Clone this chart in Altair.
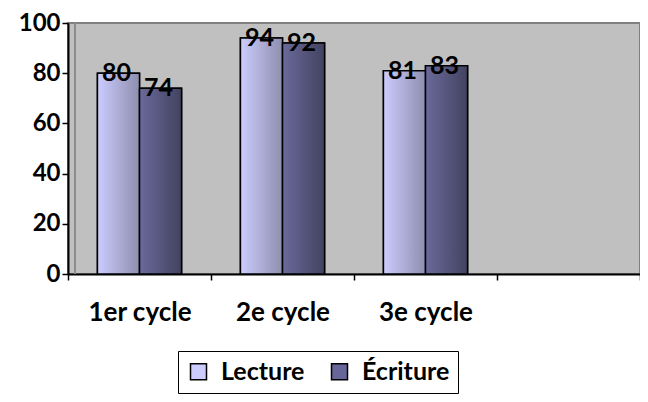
import altair as alt
import pandas as pd

categories = ["1er cycle", "2e cycle", "3e cycle", "-"]
series = ["Lecture", "Écriture"]
lecture = [80, 94, 81]
ecriture = [74, 92, 83]
y_ticks = [0, 20, 40, 60, 80, 100]
solid_colors = ["#CCCCFF", "#666699"]

rows = []
for c, v in zip(categories[:3], lecture):
    rows.append({"cycle": c, "serie": "Lecture", "valeur": v})
for c, v in zip(categories[:3], ecriture):
    rows.append({"cycle": c, "serie": "Écriture", "valeur": v})
df = pd.DataFrame(rows)

FONT = "Lato"
W, H = 572, 251

x_enc = alt.X(
    "cycle:N",
    scale=alt.Scale(domain=categories, paddingInner=0, paddingOuter=0),
    axis=alt.Axis(
        title=None, tickBand="extent", labelAngle=0,
        labelExpr="datum.value == '-' ? '' : datum.value",
        labelFont=FONT, labelFontWeight="bold", labelFontSize=26, labelColor="black",
        labelPadding=19, tickSize=6, tickColor="black", tickWidth=1.5,
        domainColor="black", domainWidth=2, grid=False,
    ),
)
xo_enc = alt.XOffset(
    "serie:N", scale=alt.Scale(domain=series, paddingInner=0, paddingOuter=0.70)
)
y_enc = alt.Y(
    "valeur:Q",
    scale=alt.Scale(domain=[0, 100], nice=False),
    axis=alt.Axis(
        title=None, values=y_ticks, labelFont=FONT, labelFontWeight="bold",
        labelFontSize=24, labelColor="black", labelPadding=2, tickSize=6,
        tickColor="black", tickWidth=1.5, domainColor="black", domainWidth=2, grid=False,
    ),
)

base = alt.Chart(df).mark_bar(stroke="black", strokeWidth=1.5).encode(
    x=x_enc, xOffset=xo_enc, y=y_enc,
    color=alt.Color(
        "serie:N",
        scale=alt.Scale(domain=series, range=solid_colors),
        legend=alt.Legend(
            title=None, orient="none", legendX=110, legendY=328, direction="horizontal",
            columns=2, symbolType="square", symbolSize=256, symbolStrokeColor="black",
            symbolStrokeWidth=1.5, symbolOpacity=1, labelFont=FONT, labelFontWeight="bold",
            labelFontSize=25, labelColor="black", columnPadding=22, labelOffset=10,
            padding=8, strokeColor="black", fillColor="white",
        ),
    ),
)

def grad(c1, c2):
    return alt.Gradient(
        gradient="linear", x1=0, x2=1, y1=0, y2=0,
        stops=[alt.GradientStop(color=c1, offset=0), alt.GradientStop(color=c2, offset=1)],
    )

lect_layer = alt.Chart(df).transform_filter(alt.datum.serie == "Lecture").mark_bar(
    color=grad("#CCCCFF", "#8E8EAE"), stroke="black", strokeWidth=1.5
).encode(x=x_enc, xOffset=xo_enc, y=y_enc)

ecr_layer = alt.Chart(df).transform_filter(alt.datum.serie == "Écriture").mark_bar(
    color=grad("#6A6A9C", "#42425F"), stroke="black", strokeWidth=1.5
).encode(x=x_enc, xOffset=xo_enc, y=y_enc)

labels = alt.Chart(df).mark_text(
    font=FONT, fontWeight="bold", fontSize=25, color="black", baseline="middle", dx=-2
).encode(x=x_enc, xOffset=xo_enc, y=y_enc, text="valeur:Q")

wall = alt.Chart(df).mark_rule(color="#8C8C8C", strokeWidth=2).encode(
    x=alt.value(7), y=alt.value(0), y2=alt.value(H)
)

chart = alt.layer(wall, base, lect_layer, ecr_layer, labels).properties(
    width=W, height=H,
    autosize=alt.AutoSizeParams(type="none"),
    padding={"left": 60, "top": 15, "right": 0, "bottom": 120},
    background="white",
).configure_view(
    fill="#C0C0C0", stroke="#808080", strokeWidth=2
)

chart.save("out.html", embed_options={"renderer": "svg", "actions": False})
